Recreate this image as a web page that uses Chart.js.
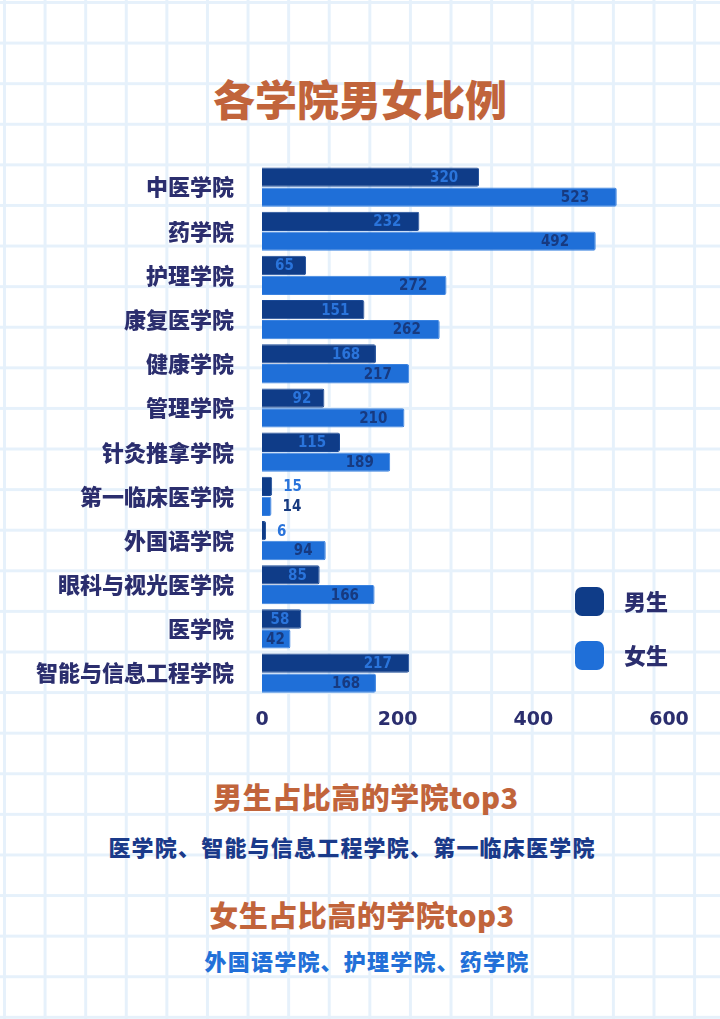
<!DOCTYPE html>
<html>
<head>
    <meta charset="utf-8" />
    <style>
        html, body { margin: 0; padding: 0; }
        body {
            width: 720px;
            height: 1019px;
            position: relative;
            overflow: hidden;
            background-color: #ffffff;
            background-image:
                linear-gradient(to right, #e6f1fb 3px, transparent 3px),
                linear-gradient(to bottom, #e6f1fb 3px, transparent 3px);
            background-size: 40.6px 40.6px;
            background-position: 3px 1px;
            font-family: "Noto Sans CJK SC", "Noto Sans", sans-serif;
        }
        .chartBox { position: absolute; left: 0; top: 0; width: 720px; height: 745px; }
        .nota {
            position: absolute;
            left: 0;
            width: 720px;
            text-align: center;
            font-weight: 900;
            line-height: 1;
        }
        .titulo { top: 77px; font-size: 42px; color: #c1643b; }
        .naranja { color: #c1643b; font-size: 29px; letter-spacing: 0.5px; }
        .lista { font-size: 22px; letter-spacing: 1.2px; }
    </style>
</head>
<body>
    <div class="nota titulo">各学院男女比例</div>

    <div class="chartBox">
        <canvas id="chart"></canvas>
    </div>

    <div class="nota naranja" style="top: 782px; left: 6px;">男生占比高的学院top3</div>
    <div class="nota lista" style="top: 835px; left: -8px; color: #1a3a8a;">医学院、智能与信息工程学院、第一临床医学院</div>
    <div class="nota naranja" style="top: 900px; left: 2px;">女生占比高的学院top3</div>
    <div class="nota lista" style="top: 949px; left: 7px; color: #2270d8;">外国语学院、护理学院、药学院</div>

    <script src="https://cdn.jsdelivr.net/npm/chart.js"></script>
    <script type="text/javascript">
        // categorias (de arriba hacia abajo)
        var colegios = ['中医学院', '药学院', '护理学院', '康复医学院', '健康学院', '管理学院',
            '针灸推拿学院', '第一临床医学院', '外国语学院', '眼科与视光医学院', '医学院', '智能与信息工程学院'];
        // valores por serie
        var hombres = [320, 232, 65, 151, 168, 92, 115, 15, 6, 85, 58, 217];
        var mujeres = [523, 492, 272, 262, 217, 210, 189, 14, 94, 166, 42, 168];
        var nombresSerie = ['男生', '女生'];
        var ticksX = [0, 200, 400, 600];

        var azulOscuro = '#0f3c88';
        var azulClaro = '#1f6fd8';
        var textoAzul = '#2b2e6e';

        // etiquetas con los valores de cada barra
        var etiquetasPlugin = {
            id: 'etiquetas',
            afterDatasetsDraw(chart) {
                var ctx = chart.ctx;
                var colores = ['#2a74db', '#173a80'];
                ctx.save();
                ctx.font = 'bold 15px "DejaVu Sans Condensed", "DejaVu Sans"';
                ctx.textBaseline = 'middle';
                chart.data.datasets.forEach(function (ds, i) {
                    var meta = chart.getDatasetMeta(i);
                    meta.data.forEach(function (bar, j) {
                        var valor = ds.data[j];
                        var ancho = bar.x - bar.base;
                        var w = ctx.measureText(valor).width;
                        ctx.fillStyle = colores[i];
                        if (valor < 30) {
                            ctx.textAlign = 'left';
                            ctx.fillText(valor, bar.x + 11, bar.y + 1);
                        } else {
                            // se ajusta para que no salga por la izquierda
                            var derecha = Math.max(bar.x - (10 + ancho * 0.05), bar.base + 4 + w);
                            ctx.textAlign = 'right';
                            ctx.fillText(valor, derecha, bar.y + 1);
                        }
                    });
                });
                ctx.restore();
            }
        };

        // leyenda dibujada dentro del area del grafico
        var leyendaPlugin = {
            id: 'leyenda',
            afterDraw(chart) {
                var ctx = chart.ctx;
                ctx.save();
                chart.data.datasets.forEach(function (ds, i) {
                    var y = 587 + i * 54;
                    ctx.fillStyle = ds.backgroundColor;
                    ctx.beginPath();
                    ctx.roundRect(575, y, 29, 29, 7);
                    ctx.fill();
                    ctx.fillStyle = textoAzul;
                    ctx.font = '900 22px "Noto Sans CJK SC"';
                    ctx.textAlign = 'left';
                    ctx.textBaseline = 'middle';
                    ctx.fillText(ds.label, 624, y + 15);
                });
                ctx.restore();
            }
        };

        var ctx = document.getElementById('chart').getContext('2d');
        new Chart(ctx, {
            type: 'bar',
            data: {
                labels: colegios,
                datasets: [{
                    label: nombresSerie[0],
                    data: hombres,
                    backgroundColor: azulOscuro,
                    borderColor: '#1a4a98',
                    borderWidth: 1,
                    borderRadius: 2,
                    borderSkipped: 'left'
                }, {
                    label: nombresSerie[1],
                    data: mujeres,
                    backgroundColor: azulClaro,
                    borderColor: '#3a82e0',
                    borderWidth: 1,
                    borderRadius: 2,
                    borderSkipped: 'left'
                }]
            },
            plugins: [etiquetasPlugin, leyendaPlugin],
            options: {
                indexAxis: 'y',
                responsive: true,
                maintainAspectRatio: false,
                animation: false,
                layout: { padding: { left: 0, right: 51, top: 165, bottom: 1 } },
                datasets: { bar: { categoryPercentage: 0.9, barPercentage: 0.97 } },
                plugins: {
                    legend: { display: false },
                    tooltip: { enabled: false }
                },
                scales: {
                    x: {
                        min: 0,
                        max: 600,
                        afterBuildTicks: function (s) { s.ticks = ticksX.map(v => ({ value: v })); },
                        grid: { display: false, drawTicks: false },
                        border: { display: false },
                        ticks: {
                            color: textoAzul,
                            padding: 13,
                            font: { family: '"DejaVu Sans"', size: 19, weight: 'bold' }
                        }
                    },
                    y: {
                        afterFit: function (s) { s.width = 262; },
                        grid: { display: false, drawTicks: false },
                        border: { display: false },
                        ticks: {
                            color: textoAzul,
                            padding: 28,
                            font: { family: '"Noto Sans CJK SC"', size: 22, weight: '900' }
                        }
                    }
                }
            }
        });
    </script>
</body>
</html>
